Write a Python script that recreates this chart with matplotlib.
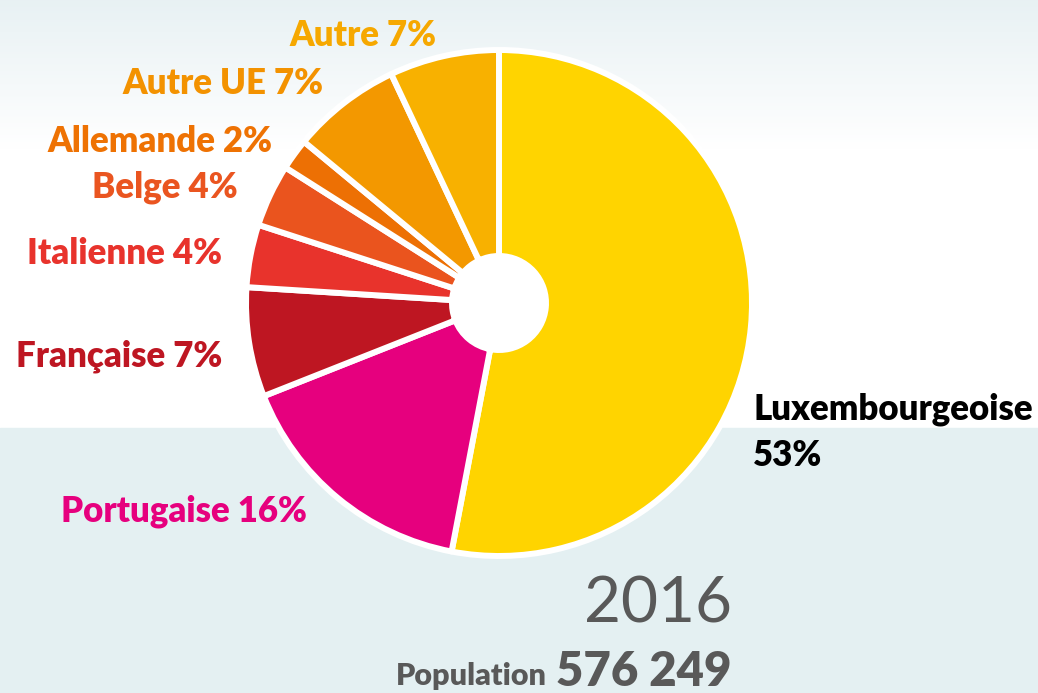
import numpy as np
import matplotlib
matplotlib.use('Agg')
import matplotlib.pyplot as plt
from matplotlib.patches import Rectangle

plt.rcParams['font.family'] = ['Lato', 'DejaVu Sans']

# données 2016
nationalites = ['Luxembourgeoise', 'Portugaise', 'Française', 'Italienne',
                'Belge', 'Allemande', 'Autre UE', 'Autre']
parts = [53, 16, 7, 4, 4, 2, 7, 7]
couleurs = ['#FFD400', '#E6007E', '#BE1622', '#E8332C',
            '#EA541E', '#ED7004', '#F39800', '#F8B100']
couleurs_texte = ['#000000', '#E6007E', '#BE1622', '#E8332C',
                  '#EA5520', '#EE7203', '#F39200', '#F6A800']
annee = '2016'
population = '576 249'

W, H = 1038, 693
fig = plt.figure(figsize=(W / 100, H / 100), dpi=100)
ax = fig.add_axes([0, 0, 1, 1])
ax.set_xlim(0, W)
ax.set_ylim(0, H)
ax.axis('off')

# fond : dégradé en haut, bande bleutée en bas
grad = np.linspace(0, 1, 200).reshape(-1, 1)
top = np.array([0.91, 0.945, 0.955])
white = np.array([1.0, 1.0, 1.0])
img = top + (white - top) * np.clip(grad / 0.55, 0, 1)[..., None]
img = np.repeat(img, 2, axis=1)
ax.imshow(img, extent=[0, W, H - 270, H], aspect='auto', zorder=0)
ax.add_patch(Rectangle((0, 0), W, H - 270, color='white', zorder=0.5))
ax.add_patch(Rectangle((0, 0), W, H - 428, color='#E4F0F2', zorder=1))

# camembert en anneau
cx, cy, R = 499, H - 303, 253
wedges, _ = ax.pie(parts, colors=couleurs, startangle=90, counterclock=False,
                   center=(cx, cy), radius=R, frame=True,
                   wedgeprops=dict(width=R - 47, edgecolor='white',
                                   linewidth=4.3, joinstyle='round'))
for w in wedges:
    w.set_zorder(3)
ax.set_xlim(0, W)
ax.set_ylim(0, H)
ax.set_aspect('equal')
ax.axis('off')

# étiquettes
positions = {
    'Luxembourgeoise': (753, 406, 'left'),
    'Portugaise': (307, 508, 'right'),
    'Française': (222, 353, 'right'),
    'Italienne': (222, 251, 'right'),
    'Belge': (238, 184, 'right'),
    'Allemande': (272, 138, 'right'),
    'Autre UE': (323, 80, 'right'),
    'Autre': (436, 32, 'right'),
}
poids = 'heavy'
taille = 25
for nom, p, c in zip(nationalites, parts, couleurs_texte):
    x, y, ha = positions[nom]
    if nom == 'Luxembourgeoise':
        ax.text(x, H - y, nom, ha=ha, va='center_baseline', fontsize=taille,
                fontweight=poids, color=c, zorder=5)
        ax.text(x, H - y - 47, f'{p}%', ha=ha, va='center_baseline',
                fontsize=taille, fontweight=poids, color=c, zorder=5)
    else:
        ax.text(x, H - y, f'{nom} {p}%', ha=ha, va='center_baseline',
                fontsize=taille, fontweight=poids, color=c, zorder=5)

ax.text(732, H - 599, annee, ha='right', va='center_baseline',
        fontsize=46, color='#595959', zorder=5)
ax.text(732, H - 668, population, ha='right', va='center_baseline',
        fontsize=34, fontweight=poids, color='#595959', zorder=5)
ax.text(547, H - 674, 'Population', ha='right', va='center_baseline',
        fontsize=22, fontweight=poids, color='#595959', zorder=5)

fig.savefig('out.png', dpi=100)
